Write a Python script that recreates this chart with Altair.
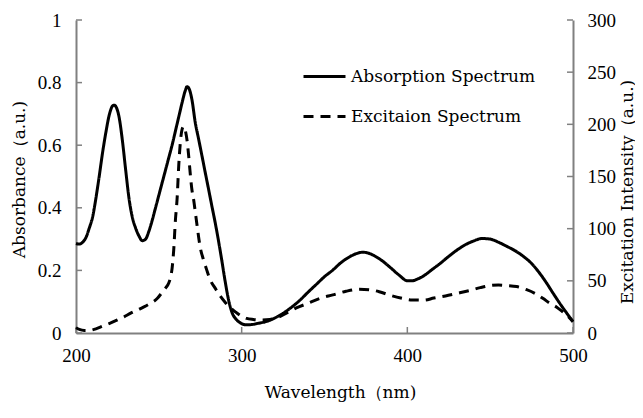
import altair as alt
import pandas as pd

# ---- data ----
abs_wl = [200, 202, 204, 206, 208, 210, 212, 214, 216, 218, 220, 222, 223, 224, 226, 228, 230,
          232, 234, 236, 238, 240, 242, 244, 246, 248, 250, 252, 254, 256, 258, 260, 262, 264,
          266, 267, 268, 270, 272, 274, 276, 278, 280, 282, 284, 286, 288, 290, 292, 294, 297,
          300, 303, 306, 310, 315, 320, 325, 330, 335, 340, 345, 350, 355, 360, 365, 370, 373,
          376, 380, 385, 390, 395, 400, 403, 406, 410, 415, 420, 425, 430, 435, 440, 445, 450,
          455, 460, 465, 470, 475, 480, 484, 488, 492, 496, 500]
abs_val = [0.286, 0.284, 0.29, 0.305, 0.335, 0.37, 0.43, 0.50, 0.575, 0.64, 0.695, 0.725, 0.728,
           0.724, 0.69, 0.615, 0.52, 0.43, 0.37, 0.335, 0.31, 0.295, 0.30, 0.325, 0.36, 0.40,
           0.44, 0.48, 0.52, 0.56, 0.60, 0.645, 0.69, 0.735, 0.775, 0.787, 0.783, 0.745, 0.672,
           0.62, 0.567, 0.513, 0.46, 0.406, 0.353, 0.295, 0.232, 0.166, 0.108, 0.068, 0.042, 0.03,
           0.026, 0.027, 0.031, 0.037, 0.048, 0.063, 0.082, 0.104, 0.13, 0.155, 0.18, 0.201,
           0.225, 0.243, 0.255, 0.258, 0.256, 0.247, 0.23, 0.208, 0.185, 0.167, 0.167, 0.172,
           0.183, 0.203, 0.223, 0.245, 0.265, 0.282, 0.294, 0.302, 0.300, 0.290, 0.277, 0.263,
           0.245, 0.222, 0.19, 0.16, 0.127, 0.095, 0.065, 0.036]

exc_wl = [200, 202, 205, 208, 212, 216, 220, 225, 229, 233, 237, 241, 245, 249, 252, 254, 256,
          257, 258, 259, 260, 261, 262, 263, 264, 265, 266, 267, 268, 269, 270, 271, 272, 273,
          275, 277, 279, 281, 284, 287, 290, 293, 296, 300, 303, 307, 312, 317, 322, 327, 333,
          340, 347, 355, 363, 371, 377, 383, 390, 396, 403, 410, 416, 423, 430, 437, 444, 450,
          455, 460, 466, 472, 477, 482, 486, 490, 494, 497, 500]
exc_val = [5, 3.5, 2.5, 2.5, 4, 6.5, 9, 12.5, 15.5, 19, 22, 25, 28.5, 33, 39, 43, 48, 53, 62, 80,
           108, 128, 160, 183, 195, 198, 194, 185, 170, 152, 137, 128, 116, 104, 82, 70, 60, 51,
           43, 35.5, 29.5, 24.5, 20.5, 16, 14, 13, 12.5, 13, 15, 19, 24, 28.5, 33, 36.5, 40, 42,
           41.5, 39.6, 36, 33.5, 31.6, 31.5, 33.5, 35.5, 38, 40.5, 43.5, 45.5, 46, 45.5, 44.5,
           41.5, 38, 33, 28.5, 25, 20, 16, 11]

series_names = ["Absorption Spectrum", "Excitaion Spectrum"]
x_ticks = [200, 300, 400, 500]
left_ticks = [0, 0.2, 0.4, 0.6, 0.8, 1]
right_ticks = [0, 50, 100, 150, 200, 250, 300]

W, H = 497, 313
GREY = "#808080"
TICK_FONT = "Liberation Serif"
TEXT_FONT = "DejaVu Serif"

df_abs = pd.DataFrame({"wl": abs_wl, "v": abs_val, "series": series_names[0]})
df_exc = pd.DataFrame({"wl": exc_wl, "v": exc_val, "series": series_names[1]})
df_xt = pd.DataFrame({"wl": x_ticks})
df_lt = pd.DataFrame({"v": left_ticks})
df_rt = pd.DataFrame({"v": right_ticks})

common_axis = dict(domainColor=GREY, domainWidth=2, ticks=False, grid=False, labelFlush=False,
                   labelFont=TICK_FONT, labelFontSize=19, labelColor="black",
                   titleFont=TEXT_FONT, titleFontSize=17, titleFontWeight="normal",
                   titleColor="black", titleAlign="center", titleBaseline="middle")

x_scale = alt.Scale(domain=[200, 500], nice=False, zero=False)
x_axis = alt.Axis(values=x_ticks, format="d", title="Wavelength（nm)",
                  titleX=264, titleY=59, labelPadding=13, **common_axis)

dash_scale = alt.Scale(domain=series_names, range=[[1, 0], [10, 7]])
legend = alt.Legend(title=None, orient="none", legendX=226, legendY=34,
                    symbolType="stroke", symbolSize=1764, symbolStrokeWidth=3,
                    symbolStrokeColor="black", labelFont=TEXT_FONT, labelFontSize=17,
                    labelColor="black", labelOffset=4, labelLimit=0, padding=0, rowPadding=9)

left_y_scale = alt.Scale(domain=[0, 1], nice=False)
right_y_scale = alt.Scale(domain=[0, 300], nice=False)
left_axis = alt.Axis(orient="left", values=left_ticks, format="~g",
                     title="Absorbance（a.u.)", titleX=-57, titleY=159, titleAngle=270,
                     labelPadding=15, **common_axis)
right_axis = alt.Axis(orient="right", values=right_ticks, format="d",
                      title="Excitation Intensity（a.u.)", titleX=54, titleY=171.5,
                      titleAngle=270, labelPadding=14, **common_axis)

abs_line = alt.Chart(df_abs).mark_line(color="black", strokeWidth=3, interpolate="monotone").encode(
    x=alt.X("wl:Q", scale=x_scale, axis=x_axis),
    y=alt.Y("v:Q", scale=left_y_scale, axis=left_axis),
    strokeDash=alt.StrokeDash("series:N", scale=dash_scale, legend=legend),
)
left_tick_marks = alt.Chart(df_lt).mark_rule(color=GREY, strokeWidth=1.5).encode(
    y=alt.Y("v:Q", scale=left_y_scale, axis=left_axis),
    x=alt.value(0), x2=alt.value(6),
)
x_tick_marks = alt.Chart(df_xt).mark_rule(color=GREY, strokeWidth=1.5).encode(
    x=alt.X("wl:Q", scale=x_scale, axis=x_axis),
    y=alt.value(H), y2=alt.value(H - 6),
)

exc_line = alt.Chart(df_exc).mark_line(color="black", strokeWidth=3, interpolate="monotone").encode(
    x=alt.X("wl:Q", scale=x_scale, axis=x_axis),
    y=alt.Y("v:Q", scale=right_y_scale, axis=right_axis),
    strokeDash=alt.StrokeDash("series:N", scale=dash_scale, legend=legend),
)
right_tick_marks = alt.Chart(df_rt).mark_rule(color=GREY, strokeWidth=1.5).encode(
    y=alt.Y("v:Q", scale=right_y_scale, axis=right_axis),
    x=alt.value(W), x2=alt.value(W - 6),
)

left_layer = alt.layer(abs_line, left_tick_marks, x_tick_marks)
right_layer = alt.layer(exc_line, right_tick_marks)

chart = (
    alt.layer(left_layer, right_layer)
    .resolve_scale(y="independent")
    .properties(width=W, height=H,
                background="white",
                autosize=alt.AutoSizeParams(type="none"),
                padding={"left": 68, "top": 12, "right": 62, "bottom": 72})
    .configure_view(strokeWidth=0)
)

chart.save("out.html", embed_options={"renderer": "svg", "actions": False})
